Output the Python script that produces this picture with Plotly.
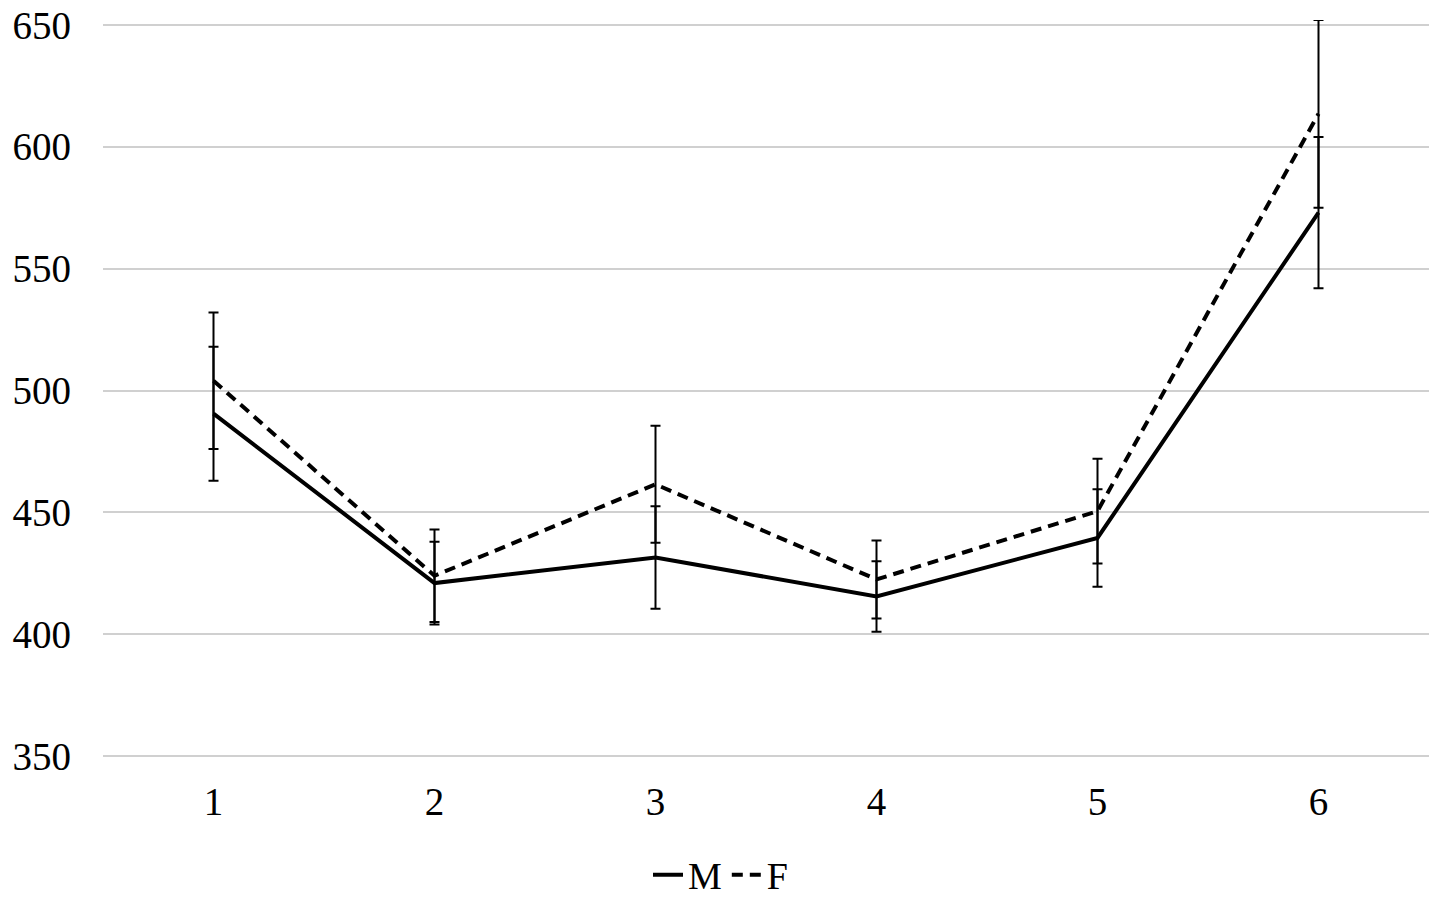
import plotly.graph_objects as go

# values
groups = [1, 2, 3, 4, 5, 6]
m_mean = [490.5, 421, 431.5, 415.5, 439.5, 573]
m_err = [27.5, 17, 21, 14.5, 20, 31]
f_mean = [504, 424, 461.5, 422.5, 450.5, 613.5]
f_err = [28, 19, 24, 16, 21.5, 38.5]

fig = go.Figure()

fig.add_trace(go.Scatter(
    x=groups, y=m_mean, mode="lines", name="M",
    line=dict(color="black", width=4),
    error_y=dict(type="data", array=m_err, color="black", thickness=2, width=5),
))
fig.add_trace(go.Scatter(
    x=groups, y=f_mean, mode="lines", name="F",
    line=dict(color="black", width=4, dash="11px,7px"),
    error_y=dict(type="data", array=f_err, color="black", thickness=2, width=5),
))

fig.update_layout(
    width=1441, height=902,
    paper_bgcolor="white", plot_bgcolor="white",
    margin=dict(l=103, r=12, t=20, b=141),
    font=dict(family="Liberation Serif", size=39, color="black"),
    legend=dict(orientation="h", xref="container", yref="container",
                x=0.5, xanchor="center", y=0.03, yanchor="middle",
                font=dict(size=38)),
)
fig.update_xaxes(range=[0.5, 6.5], tickvals=groups, showgrid=False,
                 zeroline=False, showline=False, ticks="",
                 ticklabelstandoff=14, automargin=False)
fig.update_yaxes(range=[348, 652], tickvals=[350, 400, 450, 500, 550, 600, 650],
                 showgrid=True, gridcolor="#d0d0d0",
                 gridwidth=2, zeroline=False, showline=False, ticks="",
                 ticklabelstandoff=31, ticklabeloverflow="allow",
                 automargin=False)

# drop the default body margin so the figure fills the window
fig.write_html("out.html", config={"displayModeBar": False},
               post_script="document.body.style.margin='0';")
